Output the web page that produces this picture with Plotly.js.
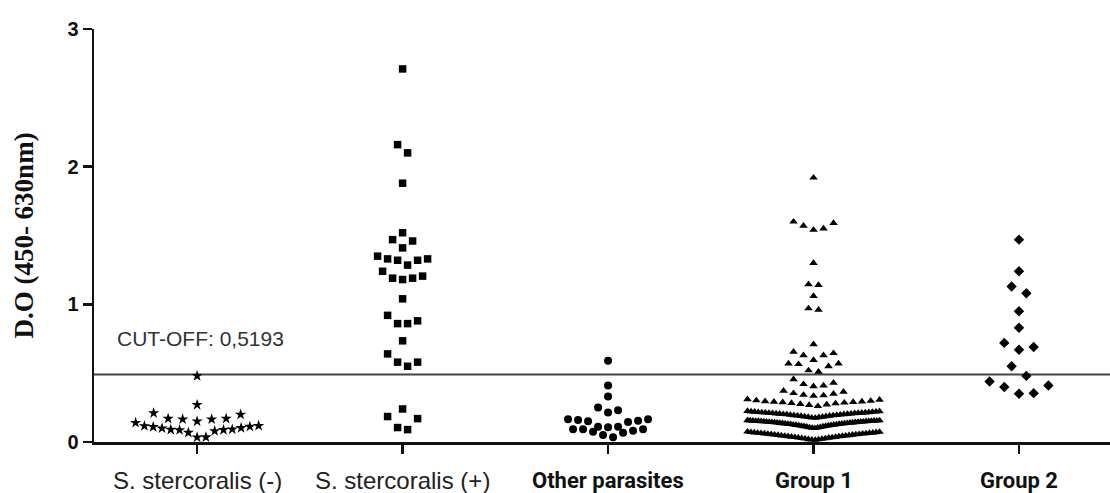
<!DOCTYPE html>
<html>
<head>
<meta charset="utf-8">
<script src="https://cdn.plot.ly/plotly-3.0.1.min.js"></script>
<style>
  html, body { margin: 0; padding: 0; background: #fff; }
  #chart { width: 1110px; height: 493px; }
</style>
</head>
<body>
<div id="chart"></div>
<script>
// ---------------- data ----------------
const categories = ['S. stercoralis (-)', 'S. stercoralis (+)', 'Other parasites', 'Group 1', 'Group 2'];

const sStercoralisNeg = [0.48, 0.27, 0.21, 0.20, 0.17, 0.17, 0.165, 0.165, 0.15, 0.14, 0.118, 0.116, 0.112, 0.11,
  0.102, 0.10, 0.092, 0.09, 0.088, 0.087, 0.08, 0.068, 0.035, 0.034];

const sStercoralisPos = [2.71, 2.16, 2.10, 1.88, 1.52, 1.47, 1.46, 1.41, 1.35, 1.33, 1.33, 1.32, 1.32, 1.285,
  1.24, 1.205, 1.19, 1.19, 1.18, 1.04, 0.92, 0.88, 0.86, 0.86, 0.735, 0.64, 0.58, 0.58, 0.55,
  0.24, 0.185, 0.17, 0.105, 0.09];

const otherParasites = [0.59, 0.41, 0.33, 0.25, 0.23, 0.215, 0.165, 0.165, 0.16, 0.155, 0.15, 0.145, 0.11, 0.11,
  0.107, 0.092, 0.092, 0.092, 0.082, 0.075, 0.068, 0.05, 0.034];

const group1 = [
  0.015, 0.017, 0.019, 0.02, 0.022, 0.024, 0.026, 0.028, 0.03, 0.031, 0.033, 0.035, 0.036, 0.038, 0.04, 0.041,
  0.043, 0.044, 0.046, 0.047, 0.049, 0.05, 0.052, 0.053, 0.055, 0.056, 0.057, 0.059, 0.06, 0.061, 0.062, 0.064,
  0.065, 0.066, 0.067, 0.069, 0.07, 0.071, 0.073, 0.075,
  0.1, 0.102, 0.104, 0.106, 0.108, 0.11, 0.112, 0.114, 0.116, 0.117, 0.119, 0.12, 0.122, 0.123, 0.125, 0.126,
  0.128, 0.129, 0.13, 0.131, 0.133, 0.134, 0.135, 0.136, 0.137, 0.138, 0.139, 0.14, 0.141, 0.142, 0.143, 0.144,
  0.145, 0.146, 0.147, 0.148, 0.148, 0.149, 0.15, 0.15, 0.151, 0.152, 0.152, 0.153, 0.154, 0.154, 0.155, 0.156,
  0.157, 0.158,
  0.175, 0.177, 0.179, 0.181, 0.183, 0.185, 0.187, 0.188, 0.19, 0.191, 0.193, 0.194, 0.196, 0.197, 0.198, 0.2,
  0.201, 0.202, 0.203, 0.205, 0.206, 0.207, 0.208, 0.209, 0.21, 0.211, 0.212, 0.213, 0.214, 0.215, 0.216, 0.217,
  0.218, 0.219, 0.22, 0.221, 0.223, 0.225,
  0.26, 0.268, 0.272, 0.276, 0.28, 0.283, 0.286, 0.288, 0.29, 0.292, 0.294, 0.296, 0.298, 0.302, 0.306, 0.31,
  0.335, 0.338, 0.342, 0.35, 0.355, 0.365, 0.372,
  0.405, 0.41, 0.42, 0.43, 0.455,
  0.51, 0.52, 0.55, 0.565, 0.57, 0.57,
  0.595, 0.63, 0.63, 0.645, 0.655,
  0.71, 0.96, 0.97, 1.06, 1.14, 1.145, 1.30,
  1.54, 1.55, 1.57, 1.59, 1.60, 1.92];

const group2 = [1.47, 1.24, 1.13, 1.08, 0.95, 0.83, 0.72, 0.69, 0.67, 0.55, 0.48, 0.44, 0.41, 0.40, 0.355, 0.35];

const yTickValues = [0, 1, 2, 3];
const cutoffValue = 0.49;           // drawn position of the cut-off line
const cutoffText = 'CUT-OFF: 0,5193';
const yTitle = 'D.O (450- 630nm)';

// ---------------- layout constants ----------------
const W = 1110, H = 493;
const M = { l: 94, r: 0, t: 29, b: 51 };
const xRange = [-0.502, 4.443];
const yRange = [0, 3];
const pxPerX = (W - M.l - M.r) / (xRange[1] - xRange[0]);

// per-group swarm settings: row height (data units), point spacing (px), max row width (px)
const groupStyle = [
  { symbol: 'star',        size: 8.5, rowH: 0.11,  gap: 14.5, maxW: 123 },
  { symbol: 'square',      size: 7.5, rowH: 0.10,  gap: 10,   maxW: 123 },
  { symbol: 'circle',      size: 8,   rowH: 0.06,  gap: 10,   maxW: 123 },
  { symbol: 'triangle-up', size: 7.5, rowH: 0.065, gap: 10,   maxW: 132 },
  { symbol: 'diamond',     size: 8,   rowH: 0.10,  gap: 14.7, maxW: 123 }
];

// GraphPad-like column scatter: values binned into rows, lowest at centre, spread outwards
function swarm(values, centre, st) {
  const v = values.slice().sort((a, b) => a - b);
  const rows = [];
  for (const val of v) {
    const last = rows[rows.length - 1];
    if (!last || val > last.start + st.rowH + 1e-9) rows.push({ start: val, vals: [val] });
    else last.vals.push(val);
  }
  const xs = [], ys = [];
  for (const row of rows) {
    const n = row.vals.length;
    const sp = n > 1 ? Math.min(st.gap, st.maxW / (n - 1)) : 0;
    row.vals.forEach((val, k) => {
      let slot;
      if (n % 2 === 1) slot = k === 0 ? 0 : (k % 2 === 1 ? (k + 1) / 2 : -k / 2);
      else slot = k % 2 === 0 ? (k / 2 + 0.5) : -((k - 1) / 2 + 0.5);
      xs.push(centre + slot * sp / pxPerX);
      ys.push(val);
    });
  }
  return { xs, ys };
}

const seriesValues = [sStercoralisNeg, sStercoralisPos, otherParasites, group1, group2];

const traces = seriesValues.map((vals, i) => {
  const s = swarm(vals, i, groupStyle[i]);
  return {
    type: 'scatter', mode: 'markers', name: categories[i],
    x: s.xs, y: s.ys, cliponaxis: false, hoverinfo: 'skip',
    marker: { symbol: groupStyle[i].symbol, size: groupStyle[i].size, color: '#000', line: { width: 0 } }
  };
});

const labelFonts = [
  { family: 'Liberation Sans, Arial, sans-serif', size: 24, color: '#222', weight: 'normal' },
  { family: 'Liberation Sans, Arial, sans-serif', size: 24, color: '#222', weight: 'normal' },
  { family: 'Roboto, Liberation Sans, sans-serif', size: 22, color: '#111', weight: 'bold' },
  { family: 'Roboto, Liberation Sans, sans-serif', size: 22, color: '#111', weight: 'bold' },
  { family: 'Roboto, Liberation Sans, sans-serif', size: 22, color: '#111', weight: 'bold' }
];

const annotations = categories.map((c, i) => ({
  text: c, x: i, xref: 'x', y: -0.094, yref: 'paper',
  xanchor: 'center', yanchor: 'middle', showarrow: false, font: labelFonts[i]
}));
annotations.push({
  text: cutoffText, x: 0.0207, xref: 'paper', y: 0.755, yref: 'y',
  xanchor: 'left', yanchor: 'middle', showarrow: false,
  font: { family: 'Liberation Sans, Arial, sans-serif', size: 21, color: '#333' }
});

const layout = {
  width: W, height: H, margin: M,
  paper_bgcolor: '#fff', plot_bgcolor: '#fff',
  showlegend: false,
  xaxis: {
    range: xRange, tickvals: categories.map((c, i) => i), showticklabels: false,
    ticks: 'outside', ticklen: 9, tickwidth: 2.5, tickcolor: '#111',
    showline: true, linecolor: '#111', linewidth: 2.5, showgrid: false, zeroline: false, fixedrange: true
  },
  yaxis: {
    range: yRange, tickvals: yTickValues, ticktext: yTickValues.map(String),
    ticks: 'outside', ticklen: 9, tickwidth: 2.5, tickcolor: '#111',
    showline: true, linecolor: '#111', linewidth: 2.5, showgrid: false, zeroline: false,
    tickfont: { family: 'Liberation Sans, Arial, sans-serif', size: 20, color: '#111', weight: 'bold' },
    title: { text: yTitle, standoff: 26,
      font: { family: 'Liberation Serif, Times New Roman, serif', size: 27, color: '#111', weight: 'bold' } },
    fixedrange: true
  },
  shapes: [{
    type: 'line', xref: 'paper', x0: 0, x1: 1, yref: 'y', y0: cutoffValue, y1: cutoffValue,
    line: { color: '#444', width: 2 }, layer: 'below'
  }],
  annotations: annotations
};

Plotly.newPlot('chart', traces, layout, { displayModeBar: false, staticPlot: true });
</script>
</body>
</html>
